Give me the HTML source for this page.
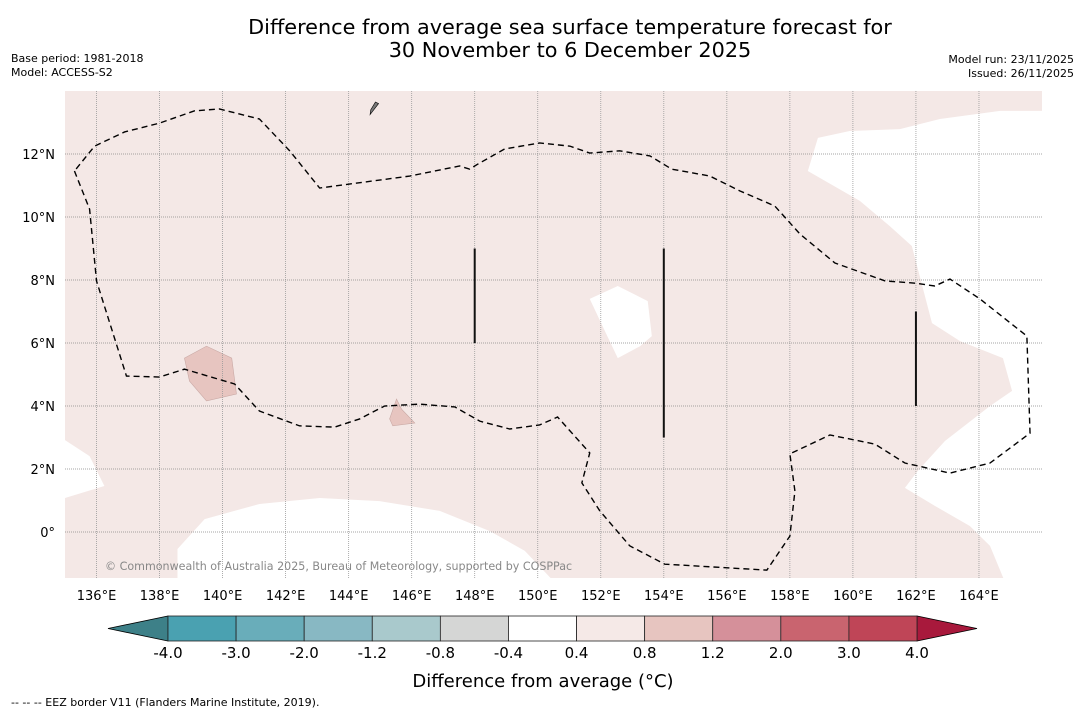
<!DOCTYPE html>
<html><head><meta charset="utf-8"><style>
body{margin:0;background:#fff;width:1085px;height:713px;overflow:hidden;font-family:"Liberation Sans","DejaVu Sans",sans-serif}
svg text{font-family:"DejaVu Sans","Liberation Sans",sans-serif}
</style></head><body>
<svg id="c" width="1085" height="713" xmlns="http://www.w3.org/2000/svg">
<text x="570" y="34" text-anchor="middle" font-size="20.8">Difference from average sea surface temperature forecast for</text>
<text x="570" y="57" text-anchor="middle" font-size="20.8">30 November to 6 December 2025</text>
<text x="11" y="62" font-size="11">Base period: 1981-2018</text>
<text x="11" y="76" font-size="11">Model: ACCESS-S2</text>
<text x="1074" y="63" font-size="11" text-anchor="end">Model run: 23/11/2025</text>
<text x="1074" y="77" font-size="11" text-anchor="end">Issued: 26/11/2025</text>
<defs><clipPath id="mc"><rect x="65" y="91" width="977" height="487"/></clipPath></defs>
<g id="map" clip-path="url(#mc)"></g>
<g id="xt"></g>
<g id="yt"></g>
<text x="105" y="570" font-size="11.1" fill="#888">© Commonwealth of Australia 2025, Bureau of Meteorology, supported by COSPPac</text>
<g id="cb"></g>
<text x="543" y="687" text-anchor="middle" font-size="18">Difference from average (°C)</text>
<text x="11" y="706" font-size="11">--  --  -- EEZ border V11 (Flanders Marine Institute, 2019).</text>
</svg>
<script>
const lonTicks=[136,138,140,142,144,146,148,150,152,154,156,158,160,162,164];
const latTicks=[0,2,4,6,8,10,12];
const cbLevels=[-4.0,-3.0,-2.0,-1.2,-0.8,-0.4,0.4,0.8,1.2,2.0,3.0,4.0];
const cbColors=["#4aa1b1","#69adba","#88b8c3","#a9c9cc","#d5d6d5","#ffffff","#f5e9e7","#e7c5c0","#d5909a","#c9646f","#bf4557"];
const cbUnder="#3d8088", cbOver="#a8193c";
const eezLon=[135.30,135.78,136.00,136.95,138.00,138.79,140.38,141.17,142.44,143.56,144.35,145.14,146.25,147.37,148.16,149.11,150.06,150.63,151.65,151.40,151.97,152.92,154.03,157.27,158.00,158.16,158.00,159.27,160.70,161.65,163.08,164.35,165.62,165.52,164.03,163.08,162.60,161.97,161.02,159.43,158.32,157.52,156.41,155.46,154.25,153.56,152.60,151.65,151.02,150.06,148.95,148.10,147.84,147.52,145.94,143.08,142.13,141.17,139.90,139.11,138.00,136.89,135.94,135.30];
const eezLat=[11.46,10.25,7.97,4.95,4.92,5.17,4.70,3.84,3.37,3.33,3.59,4.00,4.06,3.97,3.52,3.27,3.40,3.65,2.51,1.56,0.67,-0.44,-1.02,-1.21,-0.13,1.30,2.48,3.08,2.79,2.19,1.87,2.19,3.14,6.22,7.40,8.03,7.81,7.90,7.97,8.54,9.46,10.35,10.83,11.30,11.52,11.94,12.10,12.03,12.25,12.35,12.16,11.68,11.52,11.62,11.30,10.92,12.10,13.11,13.43,13.37,12.98,12.70,12.25,11.46];
const whiteBottomLon=[138.57,138.57,139.43,141.17,143.08,144.98,146.89,148.48,149.59,150.54];
const whiteBottomLat=[-1.6,-0.54,0.41,0.89,1.08,0.98,0.67,0.03,-0.60,-1.6];
const whiteLeftLon=[134.9,136.25,135.78,134.9];
const whiteLeftLat=[1.05,1.46,2.41,2.98];
const whiteRightLon=[166.1,164.67,162.76,161.49,159.90,158.89,158.57,160.22,161.17,161.87,162.51,163.40,164.76,165.05,164.35,162.92,162.06,161.65,162.60,163.71,164.35,164.83,166.1];
const whiteRightLat=[13.37,13.37,13.11,12.79,12.73,12.51,11.46,10.51,9.71,9.08,6.63,6.06,5.52,4.48,4.00,2.89,1.94,1.40,0.83,0.19,-0.44,-1.6,-1.6];
const whiteIslandLon=[151.65,152.54,153.49,153.62,153.25,152.54,152.13];
const whiteIslandLat=[7.40,7.81,7.33,6.22,5.90,5.52,6.38];
const warmALon=[138.79,139.49,140.29,140.44,139.49,138.95];
const warmALat=[5.52,5.90,5.52,4.38,4.16,4.79];
const warmBLon=[145.52,145.68,146.10,145.40,145.30];
const warmBLat=[4.22,3.90,3.46,3.37,3.59];
const barLon=[148,154,162], barLat0=[6,3,4], barLat1=[9,9,7];
const guamLon=[144.68,144.95,144.85,144.70], guamLat=[13.25,13.6,13.65,13.4];

const X0=65,Y0=91,W=977,H=487,lonMin=135,lonMax=166,latMin=-1.46,latMax=14;
const xs=l=>X0+(l-lonMin)/(lonMax-lonMin)*W;
const ys=a=>Y0+(latMax-a)/(latMax-latMin)*H;
const NS="http://www.w3.org/2000/svg";
function mk(tag,attrs,parent){const e=document.createElementNS(NS,tag);for(const k in attrs)e.setAttribute(k,attrs[k]);parent.appendChild(e);return e;}
const map=document.getElementById('map');
const bg=mk('rect',{x:X0,y:Y0,width:W,height:H,fill:'#f4e8e6'},map);


function poly(lons,lats,fill,name,stroke){
 const p=mk('polygon',{points:lons.map((l,i)=>xs(l)+','+ys(lats[i])).join(' '),fill:fill,stroke:stroke||'none','stroke-width':0.6},map);
 
 
}
poly(whiteBottomLon,whiteBottomLat,'#fff','neutral-region-south');
poly(whiteLeftLon,whiteLeftLat,'#fff','neutral-region-west');
poly(whiteRightLon,whiteRightLat,'#fff','neutral-region-east');
poly(whiteIslandLon,whiteIslandLat,'#fff','neutral-region-central');
poly(warmALon,warmALat,'#e7c5c0','warm-patch-west','#c9a9a5');
poly(warmBLon,warmBLat,'#e7c5c0','warm-patch-central','#c9a9a5');
poly(guamLon,guamLat,'#777','island-guam','#000');
lonTicks.forEach(l=>{
 const g=mk('line',{x1:xs(l),x2:xs(l),y1:Y0,y2:Y0+H,stroke:'#999','stroke-width':0.8,'stroke-dasharray':'1,1'},map);
 
 
});
latTicks.forEach(a=>{
 const g=mk('line',{x1:X0,x2:X0+W,y1:ys(a),y2:ys(a),stroke:'#888','stroke-width':0.8,'stroke-dasharray':'1,1'},map);
 
 
});
const eez=mk('polyline',{points:eezLon.map((l,i)=>xs(l)+','+ys(eezLat[i])).join(' '),fill:'none',stroke:'#000','stroke-width':1.4,'stroke-dasharray':'6,4'},map);


barLon.forEach((l,i)=>{
 const b=mk('line',{x1:xs(l),x2:xs(l),y1:ys(barLat0[i]),y2:ys(barLat1[i]),stroke:'#111','stroke-width':2},map);
 
 
});
const xt=document.getElementById('xt');
lonTicks.forEach(l=>{
 const t=mk('text',{x:xs(l),y:600,'text-anchor':'middle','font-size':13},xt);t.textContent=l+'°E';
 
 
});
const yt=document.getElementById('yt');
latTicks.forEach(a=>{
 const t=mk('text',{x:55,y:ys(a)+5,'text-anchor':'end','font-size':13},yt);t.textContent=a===0?'0°':a+'°N';
 
 
});
const cb=document.getElementById('cb');
const cbX0=168,cbX1=917,cbY=616,cbH=25,n=cbColors.length,sw=(cbX1-cbX0)/n;
const cx=i=>cbX0+i*sw;
const u=mk('polygon',{points:`108,${cbY+cbH/2} ${cbX0},${cbY} ${cbX0},${cbY+cbH}`,fill:cbUnder,stroke:'#000','stroke-width':0.8},cb);


const o=mk('polygon',{points:`977,${cbY+cbH/2} ${cbX1},${cbY} ${cbX1},${cbY+cbH}`,fill:cbOver,stroke:'#000','stroke-width':0.8},cb);


cbColors.forEach((c,i)=>{
 const r=mk('rect',{x:cx(i),y:cbY,width:sw,height:cbH,fill:c,stroke:'#222','stroke-width':0.8},cb);
 
 
});
cbLevels.forEach((v,i)=>{
 const t=mk('text',{x:cx(i),y:658,'text-anchor':'middle','font-size':15},cb);t.textContent=v.toFixed(1);
 
 
});
</script>
</body></html>
